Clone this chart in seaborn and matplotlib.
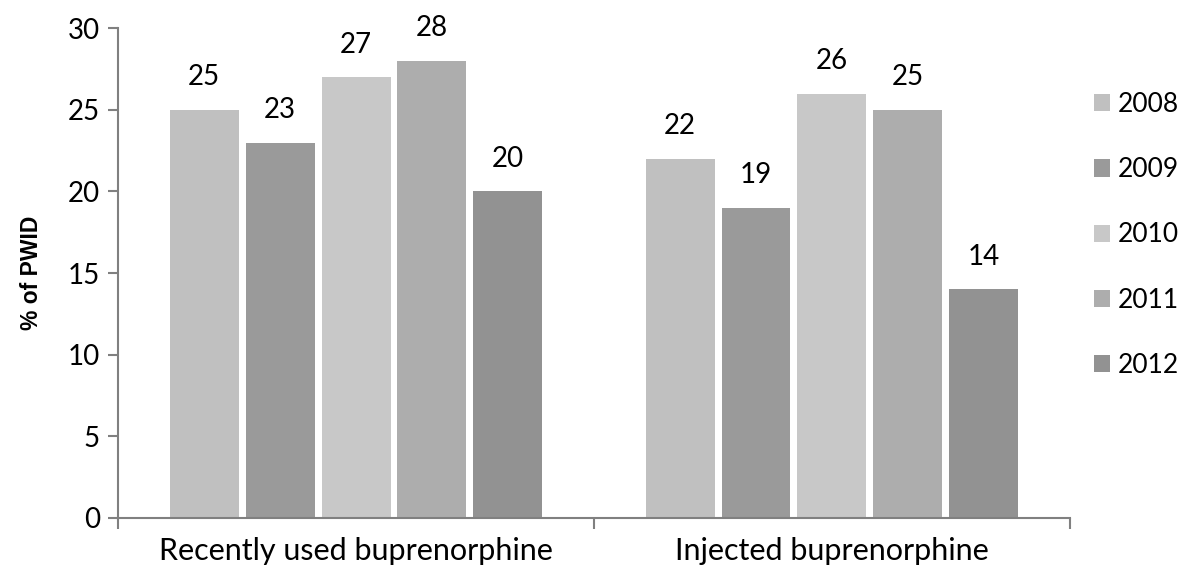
import matplotlib
matplotlib.use("Agg")
import matplotlib.pyplot as plt
import seaborn as sns
import pandas as pd
from matplotlib.patches import Patch

categories = ["Recently used buprenorphine", "Injected buprenorphine"]
years = ["2008", "2009", "2010", "2011", "2012"]
values_recent = [25, 23, 27, 28, 20]
values_injected = [22, 19, 26, 25, 14]
colors = ["#C0C0C0", "#9A9A9A", "#C8C8C8", "#ADADAD", "#929292"]

rows = []
for cat, vals in zip(categories, [values_recent, values_injected]):
    for yr, v in zip(years, vals):
        rows.append({"category": cat, "year": yr, "value": v})
df = pd.DataFrame(rows)

sns.set_theme(style="white")
plt.rcParams["font.family"] = ["Lato", "DejaVu Sans"]

fig = plt.figure(figsize=(11.96, 5.76), dpi=100)
ax = fig.add_axes([0.0987, 0.1007, 0.7959, 0.8503])

sns.barplot(data=df, x="category", y="value", hue="year", order=categories,
            hue_order=years, palette=colors, width=0.798, linewidth=0,
            saturation=1, ax=ax, legend=False)

# narrow each bar slightly so a white gap separates neighbours
for p in ax.patches:
    w = p.get_width()
    p.set_x(p.get_x() + w * 0.046)
    p.set_width(w * 0.908)

for cont in ax.containers:
    ax.bar_label(cont, padding=14, fontsize=20, color="black")

ax.set_ylim(0, 30)
ax.set_xlim(-0.5, 1.5)
ax.set_yticks([0, 5, 10, 15, 20, 25, 30])
ax.tick_params(axis="y", labelsize=20, length=7, width=1.5, color="#808080",
               pad=6, left=True, labelcolor="black")
ax.set_xticks([-0.5, 0.5, 1.5])
ax.set_xticklabels([])
ax.set_xticks([0, 1], minor=True)
ax.set_xticklabels(categories, minor=True, fontsize=22, color="black")
ax.tick_params(axis="x", which="major", length=8, width=1.5, color="#808080",
               bottom=True, direction="out")
ax.tick_params(axis="x", which="minor", length=0, pad=14)

ax.set_xlabel("")
ax.set_ylabel("% of PWID", fontsize=16.5, fontweight="bold", color="black",
              family="Liberation Sans")
ax.yaxis.set_label_coords(-0.079, 0.5)

for side in ["top", "right"]:
    ax.spines[side].set_visible(False)
for side in ["left", "bottom"]:
    ax.spines[side].set_color("#808080")
    ax.spines[side].set_linewidth(1.5)

handles = [Patch(facecolor=c, edgecolor="none") for c in colors]
ax.legend(handles, years, loc="center left", bbox_to_anchor=(1.0, 0.578),
          frameon=False, fontsize=19, handlelength=0.62, handleheight=0.62,
          handletextpad=0.3, labelspacing=1.52, labelcolor="black")

fig.savefig("out.png", dpi=100)
